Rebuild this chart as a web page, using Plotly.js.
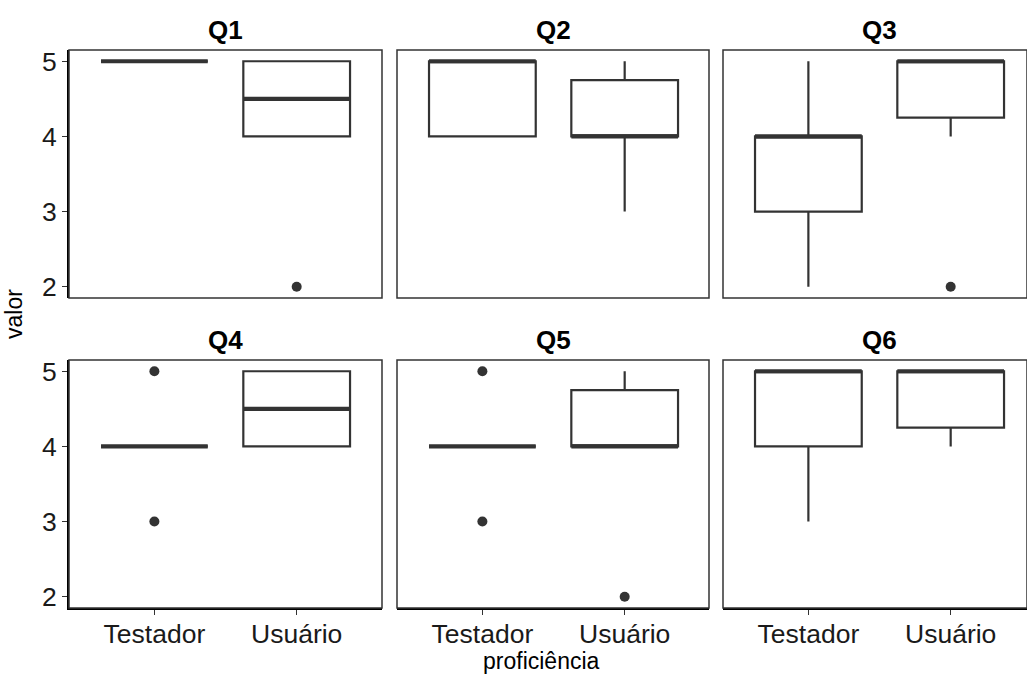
<!DOCTYPE html>
<html>
<head>
<meta charset="utf-8">
<script src="https://cdn.plot.ly/plotly-3.0.1.min.js"></script>
<style>html,body{margin:0;padding:0;background:#fff;}#chart{width:1027px;height:677px;}</style>
</head>
<body>
<div id="chart"></div>
<script>
// ---- data ----
const panels = ['Q1', 'Q2', 'Q3', 'Q4', 'Q5', 'Q6'];
const groups = ['Testador', 'Usuário'];
// per panel: [Testador, Usuário]
const q1Vals     = [[5, 4],   [4, 4],    [3, 4.25], [4, 4],   [4, 4],    [4, 4.25]];
const medianVals = [[5, 4.5], [5, 4],    [4, 5],    [4, 4.5], [4, 4],    [5, 5]];
const q3Vals     = [[5, 5],   [5, 4.75], [4, 5],    [4, 5],   [4, 4.75], [5, 5]];
const lowerVals  = [[5, 4],   [4, 3],    [2, 4],    [4, 4],   [4, 4],    [3, 4]];
const upperVals  = [[5, 5],   [5, 5],    [5, 5],    [4, 5],   [4, 5],    [5, 5]];
const outlierX   = [['Usuário'], [], ['Usuário'], ['Testador', 'Testador'], ['Testador', 'Testador', 'Usuário'], []];
const outlierY   = [[2], [], [2], [5, 3], [5, 3, 2], []];
const yTicks = [2, 3, 4, 5];
const xTitle = 'proficiência';
const yTitle = 'valor';

// ---- layout geometry (pixels) ----
const W = 1027, H = 677;
const colPx = [[69, 382], [397, 709], [723, 1027]];
const rowPx = [[50, 298], [360, 608]];
const unitPx = 142.3; // pixels per category unit

const ink = '#333333';
const font = 'Liberation Sans, Arial, Helvetica, sans-serif';

const traces = [];
const layout = {
  width: W, height: H,
  margin: {l: 0, r: 0, t: 0, b: 0},
  paper_bgcolor: '#ffffff', plot_bgcolor: '#ffffff',
  showlegend: false,
  boxmode: 'overlay',
  font: {family: font, color: '#000'},
  shapes: [], annotations: []
};

panels.forEach((p, i) => {
  const r = Math.floor(i / 3), c = i % 3;
  const n = i + 1;
  const xa = 'x' + (n === 1 ? '' : n), ya = 'y' + (n === 1 ? '' : n);
  const xKey = 'xaxis' + (n === 1 ? '' : n), yKey = 'yaxis' + (n === 1 ? '' : n);
  const [x0, x1] = colPx[c];
  const [yt, yb] = rowPx[r];
  const widthUnits = (x1 - x0) / unitPx;
  const bottom = r === 1, left = c === 0;

  layout[xKey] = {
    domain: [x0 / W, x1 / W], anchor: ya,
    type: 'category', categoryorder: 'array', categoryarray: groups,
    range: [-0.6, -0.6 + widthUnits],
    showgrid: false, zeroline: false,
    showline: bottom, linecolor: '#000', linewidth: 2,
    ticks: bottom ? 'outside' : '', ticklen: 5, tickwidth: 1.3, tickcolor: ink,
    showticklabels: bottom, ticklabelstandoff: -4,
    tickfont: {family: font, size: 26.5, color: '#1a1a1a'},
    fixedrange: true
  };
  layout[yKey] = {
    domain: [(H - yb) / H, (H - yt) / H], anchor: xa,
    range: [1.85, 5.15], tickvals: yTicks, ticktext: yTicks.map(String),
    showgrid: false, zeroline: false,
    showline: left, linecolor: '#000', linewidth: 2,
    ticks: left ? 'outside' : '', ticklen: 5, tickwidth: 1.3, tickcolor: ink,
    showticklabels: left,
    tickfont: {family: font, size: 26.5, color: '#1a1a1a'},
    fixedrange: true
  };

  // panel border
  layout.shapes.push({
    type: 'rect', xref: xa + ' domain', yref: ya + ' domain',
    x0: 0, x1: 1, y0: 0, y1: 1,
    line: {color: ink, width: 1.5}, fillcolor: 'rgba(0,0,0,0)', layer: 'above'
  });

  // strip title
  layout.annotations.push({
    text: '<b>' + p + '</b>', showarrow: false,
    xref: 'paper', yref: 'paper',
    x: ((x0 + (c === 2 ? x0 + 313 : x1)) / 2) / W, y: (H - (yt - 20)) / H,
    xanchor: 'center', yanchor: 'middle',
    font: {family: font, size: 26, color: '#000'}
  });

  // boxes
  traces.push({
    type: 'box', xaxis: xa, yaxis: ya,
    x: groups,
    q1: q1Vals[i], median: medianVals[i], q3: q3Vals[i],
    lowerfence: lowerVals[i], upperfence: upperVals[i],
    boxpoints: false, width: 0.75, whiskerwidth: 0,
    fillcolor: '#ffffff', line: {color: ink, width: 2.2},
    hoverinfo: 'skip'
  });
  // thick median bars
  traces.push({
    type: 'box', xaxis: xa, yaxis: ya,
    x: groups,
    q1: medianVals[i], median: medianVals[i], q3: medianVals[i],
    lowerfence: medianVals[i], upperfence: medianVals[i],
    boxpoints: false, width: 0.75, whiskerwidth: 0,
    fillcolor: 'rgba(0,0,0,0)', line: {color: ink, width: 4.2},
    hoverinfo: 'skip'
  });
  // outliers
  if (outlierY[i].length) {
    traces.push({
      type: 'scatter', mode: 'markers', xaxis: xa, yaxis: ya,
      x: outlierX[i], y: outlierY[i],
      marker: {color: ink, size: 10, line: {width: 0}},
      hoverinfo: 'skip', cliponaxis: false
    });
  }
});

// axis titles
layout.annotations.push({
  text: xTitle, showarrow: false, xref: 'paper', yref: 'paper',
  x: 541 / W, y: (H - 661) / H, xanchor: 'center', yanchor: 'middle',
  font: {family: font, size: 23, color: '#000'}
});
layout.annotations.push({
  text: yTitle, showarrow: false, xref: 'paper', yref: 'paper',
  x: 14 / W, y: (H - 314) / H, xanchor: 'center', yanchor: 'middle', textangle: -90,
  font: {family: font, size: 23, color: '#000'}
});

Plotly.newPlot('chart', traces, layout, {staticPlot: true, displayModeBar: false});
</script>
</body>
</html>
